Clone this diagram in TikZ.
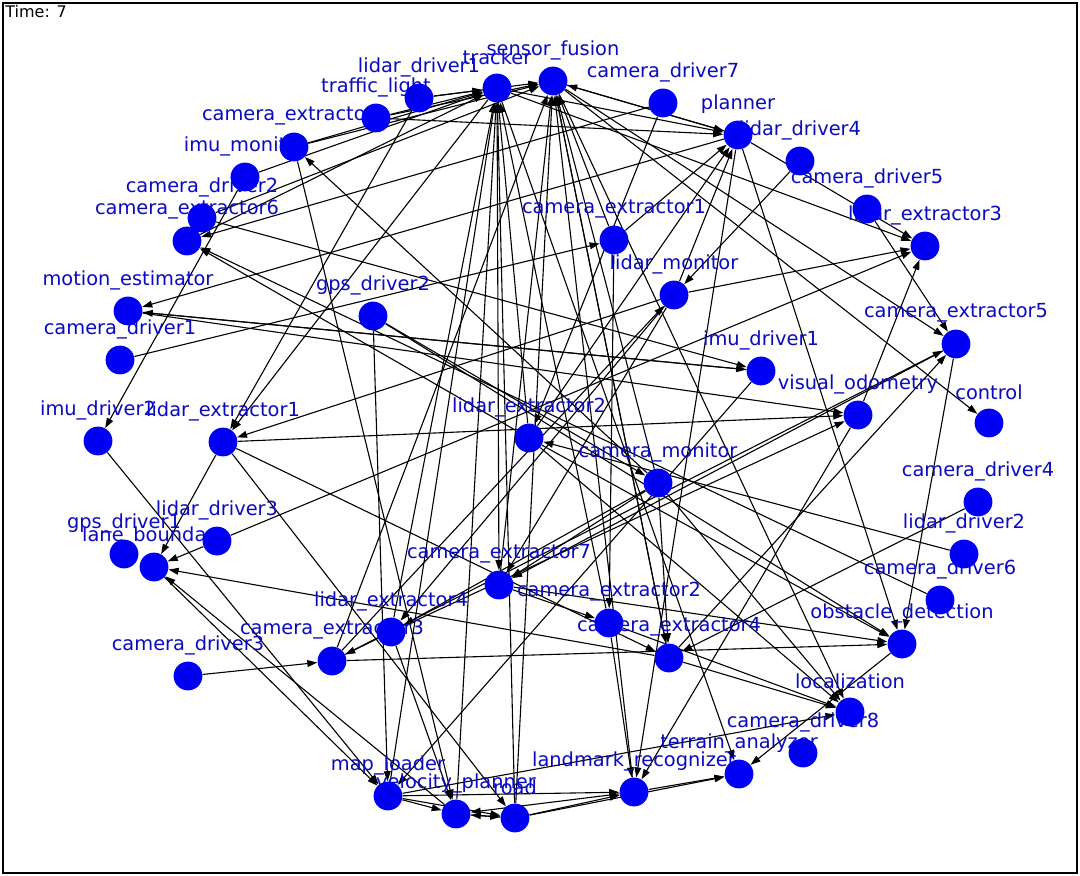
\documentclass[tikz,border=0pt]{standalone}
\usepackage{fontspec}
\setmainfont{DejaVu Sans}
\usetikzlibrary{arrows.meta}
\definecolor{nodeblue}{RGB}{0,0,245}
\definecolor{labelblue}{RGB}{10,10,195}
\pgfdeclarelayer{bglayer}
\pgfdeclarelayer{edgelayer}
\pgfsetlayers{bglayer,edgelayer,main}
\tikzset{
  vtx/.style={circle, fill=nodeblue, draw=none, minimum size=14.4pt, inner sep=0pt},
  vlabel/.style={text=labelblue, font=\fontsize{9.7pt}{11pt}\selectfont, inner sep=0pt, anchor=center},
  conn/.style={draw=black, line width=0.55pt, -{Triangle[length=5pt,width=3.4pt]}},
  frame/.style={draw=black, line width=0.7pt},
}
\begin{document}
\begin{tikzpicture}[x=0.5pt,y=-0.5pt]
\useasboundingbox (0,0) rectangle (1080,876);
\begin{pgfonlayer}{bglayer}
\fill[white] (0,0) rectangle (1080,876);
\draw[frame] (3,3) rectangle (1077,873);
\end{pgfonlayer}
\def\nodelist{tr/497/88/tracker, sf/553/81/sensor\_fusion, ld1/419/98/lidar\_driver1, tl/376/118/traffic\_light, ce8/294/147/camera\_extractor8, im/245/177/imu\_monitor, cd2/202/218/camera\_driver2, ce6/187/241/camera\_extractor6, cd7/663/103/camera\_driver7, pl/738/135/planner, ld4/800/161/lidar\_driver4, cd5/867/209/camera\_driver5, le3/925/246/lidar\_extractor3, ce1/614/240/camera\_extractor1, lm/674/295/lidar\_monitor, me/128/311/motion\_estimator, cd1/120/360/camera\_driver1, gd2/373/316/gps\_driver2, id1/761/371/imu\_driver1, ce5/956/344/camera\_extractor5, vo/858/415/visual\_odometry, ct/989/423/control, id2/98/441/imu\_driver2, le1/223/442/lidar\_extractor1, le2/529/438/lidar\_extractor2, cm/658/483/camera\_monitor, cd4/978/502/camera\_driver4, ld2/964/554/lidar\_driver2, cd6/940/600/camera\_driver6, ld3/217/541/lidar\_driver3, gd1/124/554/gps\_driver1, lb/154/567/lane\_boundary, ce7/499/585/camera\_extractor7, ce2/609/623/camera\_extractor2, ce4/669/658/camera\_extractor4, le4/391/632/lidar\_extractor4, ce3/332/661/camera\_extractor3, cd3/188/676/camera\_driver3, od/902/644/obstacle\_detection, lo/850/712/localization, cd8/803/753/camera\_driver8, ta/739/774/terrain\_analyzer, lr/634/792/landmark\_recognizer, ml/388/796/map\_loader, vp/456/814/velocity\_planner, rd/515/818/road}
% labels (under the nodes)
\foreach \id/\x/\y/\t in \nodelist {
  \node[vlabel] (l-\id) at (\x,{\y-31}) {\t};
}
% nodes
\foreach \id/\x/\y/\t in \nodelist {
  \node[vtx] (n-\id) at (\x,\y) {};
}
\node[anchor=north west, inner sep=0pt, font=\fontsize{8pt}{9pt}\selectfont] (time) at (5,5) {Time: 7};
% connectors
\begin{pgfonlayer}{edgelayer}
\foreach \a/\b in {ld1/tr, ld1/sf, ld1/le1, tl/tr, tl/sf, tl/pl, ce8/tr, ce8/sf, ce8/vp, ce6/tr, cd2/sf, cd2/id1, im/id2, im/tr, cm/ce8, le2/ce6, cd6/ce6, cd7/ce6, cd1/ce1, pl/me, id1/me, me/vo, lm/le1, tr/le1, le1/lb, le1/ce4, le1/rd, ld3/lb, ld3/le3, vp/lb, ce4/lb, lb/ml, id2/ml, gd2/ml, gd2/od, gd2/cm, cd3/ce3, le4/ce3, le4/tr, le4/vp, le4/vo, ce3/sf, ce3/od, ce3/lm, ce3/ce5, ml/vp, ml/rd, ml/lr, ml/lo, ml/tr, vp/rd, rd/vp, rd/lr, rd/ta, rd/tr, rd/sf, lr/ta, lr/vp, lr/sf, vp/tr, cd4/ce4, ld2/le2, ce5/od, ce5/ce7, cd5/ce5, sf/ct, sf/ce5, pl/od, pl/sf, sf/pl, tr/pl, sf/lo, pl/le3, tr/le3, lm/le3, lm/ce7, lm/le4, lm/pl, ld4/lm, cd7/le2, ce1/pl, ce1/ce2, ce1/sf, cm/ce7, cm/le4, cm/ce4, cm/lo, cm/sf, tr/ce7, ce7/ce2, ce7/od, ce7/sf, le2/tr, le2/lo, le2/od, le2/pl, ce2/tr, ce2/lo, ce2/lr, ce4/sf, ce4/lo, ce4/ce5, od/ta, tr/ta, sf/ce4, pl/lr, id1/ml, vo/lr, me/id1, le1/vo, vo/le3}
  \draw[conn] (n-\a) -- (n-\b);
\end{pgfonlayer}
\end{tikzpicture}
\end{document}
